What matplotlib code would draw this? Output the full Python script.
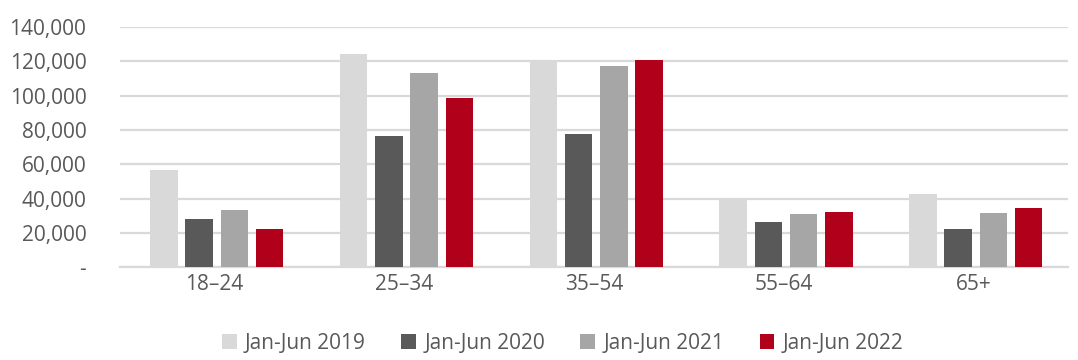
import numpy as np
from matplotlib import pyplot as plt
from matplotlib.ticker import FuncFormatter

plt.rcParams['font.family'] = ['Open Sans', 'DejaVu Sans']

categories = ['18–24', '25–34', '35–54', '55–64', '65+']
series = ['Jan-Jun 2019', 'Jan-Jun 2020', 'Jan-Jun 2021', 'Jan-Jun 2022']
values_2019 = [56400, 124100, 121000, 39700, 42400]
values_2020 = [28200, 76600, 77800, 26200, 22400]
values_2021 = [33500, 113000, 117100, 30700, 31300]
values_2022 = [22000, 98400, 120600, 31900, 34400]
colors = ['#d9d9d9', '#595959', '#a6a6a6', '#b0001a']

text_color = '#595959'
grid_color = '#d9d9d9'

fig = plt.figure(figsize=(10.78, 3.6), dpi=100)
ax = fig.add_axes([0.111, 0.258, 0.880, 0.667])

x = np.arange(len(categories))
step = 0.186
width = 0.145
all_vals = [values_2019, values_2020, values_2021, values_2022]
for i, (name, vals) in enumerate(zip(series, all_vals)):
    ax.bar(x + (i - 1.5) * step + 0.012, vals, width, color=colors[i], label=name, zorder=3)

ax.set_xlim(-0.5, len(categories) - 0.5)
ax.set_ylim(0, 140000)
ax.set_yticks(np.arange(0, 140001, 20000))
ax.yaxis.set_major_formatter(FuncFormatter(lambda v, p: '-' if v == 0 else f'{int(v):,}'))
ax.set_xticks(x)
ax.set_xticklabels(categories)

ax.grid(axis='y', color=grid_color, linewidth=1.6, zorder=0)
for s in ['top', 'right', 'left']:
    ax.spines[s].set_visible(False)
ax.spines['bottom'].set_color(grid_color)
ax.spines['bottom'].set_linewidth(1.6)
ax.tick_params(axis='both', length=0, labelsize=15, colors=text_color)
ax.tick_params(axis='x', pad=5)
ax.tick_params(axis='y', pad=24)

fig.legend(loc='lower center', bbox_to_anchor=(0.522, -0.035), ncol=4, frameon=False,
           fontsize=15, labelcolor=text_color, handlelength=0.7, handleheight=0.7,
           handletextpad=0.4, columnspacing=1.7)

fig.savefig('out.png', dpi=100)
